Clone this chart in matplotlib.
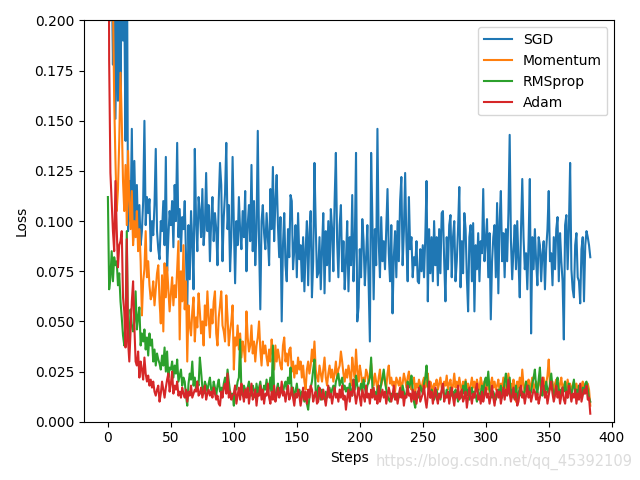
import numpy as np
import matplotlib
matplotlib.use("Agg")
import matplotlib.pyplot as plt

# Loss values in units of 0.001, one per step
sgd = [
350, 250, 300, 230, 178, 240, 151, 210, 160, 260,
161, 230, 190, 210, 140, 260, 95, 120, 100, 146,
90, 130, 100, 118, 92, 108, 88, 95, 110, 150,
98, 112, 104, 111, 85, 100, 93, 108, 136, 95,
86, 81, 100, 95, 110, 88, 132, 75, 92, 105,
98, 110, 87, 118, 100, 139, 92, 106, 85, 102,
96, 110, 82, 56, 98, 71, 105, 90, 66, 136,
100, 85, 112, 105, 92, 116, 88, 98, 124, 95,
108, 80, 100, 112, 90, 104, 96, 78, 110, 129,
118, 80, 102, 114, 139, 96, 108, 75, 92, 132,
98, 69, 100, 88, 112, 95, 86, 105, 92, 115,
75, 98, 108, 90, 128, 85, 110, 78, 96, 145,
90, 56, 100, 108, 94, 86, 104, 92, 78, 116,
96, 127, 90, 110, 123, 98, 82, 102, 50, 88,
104, 78, 70, 96, 82, 113, 110, 76, 86, 98,
72, 104, 81, 88, 70, 92, 65, 86, 100, 68,
94, 105, 62, 80, 129, 98, 72, 74, 92, 66,
86, 104, 64, 95, 78, 100, 70, 106, 96, 75,
110, 134, 90, 72, 98, 108, 75, 90, 66, 80,
100, 65, 92, 78, 113, 70, 88, 134, 50, 57,
86, 72, 101, 90, 68, 82, 98, 70, 40, 134,
100, 61, 96, 78, 146, 90, 72, 102, 80, 90,
76, 96, 116, 84, 70, 98, 54, 82, 95, 72,
100, 80, 110, 122, 78, 95, 124, 90, 70, 112,
86, 92, 72, 82, 78, 90, 70, 69, 86, 75,
88, 72, 92, 120, 60, 96, 74, 92, 70, 100,
78, 92, 68, 96, 74, 104, 105, 80, 60, 92,
76, 98, 103, 72, 92, 100, 70, 80, 96, 117,
67, 90, 74, 104, 96, 72, 55, 92, 98, 70,
99, 55, 88, 76, 94, 70, 90, 84, 116, 80,
90, 101, 72, 94, 51, 80, 92, 98, 72, 109,
64, 100, 115, 80, 94, 72, 96, 80, 104, 143,
90, 71, 86, 98, 76, 100, 80, 62, 96, 121,
92, 76, 84, 66, 90, 121, 44, 92, 76, 96,
80, 68, 92, 88, 70, 84, 90, 66, 86, 96,
115, 80, 84, 68, 92, 76, 96, 102, 70, 94,
80, 70, 41, 98, 103, 76, 96, 129, 76, 66,
62, 88, 94, 72, 70, 59, 86, 92, 60, 88,
95, 92, 88, 82,
]

momentum = [
230, 260, 200, 240, 210, 160, 130, 105, 116, 140,
174, 150, 120, 105, 128, 98, 135, 110, 96, 115,
88, 100, 92, 105, 85, 96, 80, 53, 70, 76,
95, 72, 80, 68, 61, 63, 70, 58, 66, 74,
78, 60, 49, 73, 45, 79, 62, 77, 66, 55,
64, 72, 58, 68, 62, 76, 90, 41, 75, 60,
88, 56, 70, 30, 58, 48, 43, 55, 62, 40,
52, 47, 64, 55, 44, 50, 38, 58, 48, 65,
52, 42, 56, 49, 60, 65, 44, 38, 52, 58,
65, 48, 45, 40, 63, 52, 38, 45, 50, 58,
26, 42, 38, 48, 36, 44, 32, 40, 36, 30,
55, 42, 35, 38, 48, 34, 40, 30, 38, 42,
50, 36, 28, 40, 34, 38, 32, 28, 36, 30,
41, 34, 26, 38, 30, 36, 32, 28, 26, 38,
42, 30, 34, 28, 36, 37, 25, 30, 22, 28,
24, 32, 26, 30, 22, 28, 20, 16, 26, 30,
24, 28, 36, 30, 40, 26, 22, 20, 28, 24,
20, 26, 32, 22, 18, 24, 28, 22, 26, 20,
24, 30, 22, 26, 28, 35, 30, 24, 20, 26,
22, 28, 24, 18, 32, 26, 22, 36, 25, 20,
28, 24, 18, 22, 20, 26, 24, 19, 23, 29,
22, 18, 24, 20, 16, 22, 26, 18, 21, 24,
20, 17, 24, 28, 19, 22, 18, 20, 15, 22,
20, 18, 22, 16, 19, 24, 21, 17, 22, 25,
18, 16, 20, 22, 15, 19, 17, 21, 18, 16,
20, 22, 17, 19, 24, 16, 20, 18, 14, 19,
18, 21, 16, 19, 22, 17, 15, 20, 18, 23,
16, 19, 21, 15, 18, 24, 17, 20, 16, 22,
18, 15, 20, 17, 21, 16, 19, 14, 18, 22,
17, 20, 15, 21, 18, 16, 22, 19, 15, 20,
18, 16, 21, 14, 19, 22, 17, 20, 16, 18,
21, 15, 19, 17, 22, 18, 16, 20, 24, 17,
19, 15, 21, 18, 10, 20, 17, 22, 16, 26,
18, 15, 20, 17, 21, 14, 19, 22, 16, 18,
20, 16, 19, 21, 15, 18, 22, 17, 19, 23,
31, 18, 16, 20, 14, 19, 21, 17, 15, 19,
22, 16, 18, 20, 15, 21, 17, 19, 14, 18,
20, 16, 19, 15, 18, 13, 17, 20, 15, 18,
17, 19, 16, 8,
]

rmsprop = [
112, 66, 72, 85, 70, 82, 78, 80, 68, 74,
60, 52, 43, 38, 50, 95, 42, 40, 56, 48,
45, 50, 65, 46, 52, 57, 38, 44, 40, 46,
36, 42, 33, 44, 38, 41, 30, 36, 28, 34,
31, 29, 26, 33, 28, 37, 25, 35, 22, 27,
26, 30, 22, 28, 24, 31, 20, 23, 26, 18,
22, 20, 13, 8, 19, 24, 21, 30, 18, 22,
16, 20, 18, 32, 25, 17, 14, 20, 18, 15,
19, 22, 16, 14, 20, 17, 13, 18, 21, 15,
17, 14, 19, 22, 18, 26, 20, 15, 12, 14,
8, 18, 16, 20, 22, 41, 15, 13, 18, 16,
14, 17, 20, 15, 13, 18, 16, 12, 19, 14,
17, 20, 15, 13, 18, 16, 21, 14, 17, 22,
15, 38, 14, 12, 16, 19, 13, 17, 15, 14,
18, 20, 16, 22, 19, 27, 14, 17, 12, 15,
19, 13, 16, 11, 15, 13, 10, 14, 9, 6,
12, 17, 20, 26, 31, 15, 12, 18, 14, 11,
16, 13, 11, 15, 12, 14, 17, 13, 16, 18,
15, 20, 22, 24, 18, 20, 22, 16, 18, 15,
17, 14, 19, 15, 13, 21, 16, 23, 18, 14,
16, 19, 15, 21, 17, 14, 18, 20, 22, 32,
17, 13, 15, 12, 16, 18, 14, 19, 22, 26,
20, 16, 13, 11, 10, 14, 12, 15, 13, 11,
14, 12, 16, 13, 18, 15, 12, 14, 20, 17,
19, 23, 16, 10, 7, 13, 15, 12, 18, 16,
14, 19, 22, 28, 18, 15, 12, 16, 14, 11,
13, 16, 12, 14, 11, 15, 18, 13, 12, 16,
14, 11, 17, 13, 15, 12, 16, 14, 10, 13,
15, 12, 18, 14, 20, 13, 16, 11, 14, 17,
12, 15, 13, 10, 16, 12, 14, 18, 13, 20,
22, 18, 25, 16, 14, 12, 15, 13, 11, 14,
16, 13, 18, 12, 15, 20, 24, 17, 14, 22,
13, 16, 12, 15, 18, 11, 14, 17, 13, 15,
12, 16, 20, 14, 18, 13, 15, 19, 22, 26,
17, 14, 21, 27, 16, 13, 18, 14, 20, 16,
14, 19, 24, 17, 13, 15, 18, 22, 14, 16,
13, 17, 15, 20, 14, 12, 19, 16, 13, 17,
21, 14, 16, 12, 18, 15, 13, 17, 14, 19,
20, 16, 12, 10,
]

adam = [
380, 180, 124, 110, 95, 85, 120, 96, 77, 88,
90, 95, 62, 55, 37, 91, 40, 30, 45, 60,
70, 48, 30, 28, 35, 22, 30, 26, 21, 32,
24, 20, 23, 18, 21, 17, 20, 15, 13, 16,
18, 10, 14, 20, 16, 12, 17, 21, 24, 15,
19, 25, 14, 18, 16, 20, 13, 15, 12, 17,
14, 12, 16, 10, 15, 13, 18, 12, 14, 16,
15, 20, 13, 14, 17, 12, 15, 18, 11, 14,
16, 13, 15, 12, 17, 14, 11, 13, 9, 8,
15, 12, 17, 19, 14, 24, 12, 15, 11, 13,
14, 18, 9, 13, 17, 11, 19, 14, 10, 16,
12, 17, 9, 14, 19, 11, 13, 16, 8, 14,
13, 18, 11, 16, 9, 14, 13, 19, 12, 9,
15, 11, 18, 10, 13, 17, 12, 14, 20, 13,
15, 10, 14, 18, 11, 13, 17, 12, 8, 14,
12, 16, 13, 8, 12, 17, 11, 15, 9, 16,
12, 18, 16, 10, 13, 15, 9, 10, 17, 13,
11, 16, 12, 8, 13, 18, 12, 14, 9, 13,
17, 12, 14, 10, 16, 12, 18, 11, 13, 6,
12, 16, 10, 15, 13, 21, 14, 9, 13, 17,
12, 8, 16, 13, 10, 18, 12, 14, 9, 16,
12, 17, 11, 13, 9, 18, 10, 13, 16, 12,
15, 9, 13, 17, 14, 10, 13, 18, 11, 14,
9, 13, 17, 12, 15, 8, 13, 12, 18, 13,
14, 10, 16, 11, 15, 9, 14, 17, 10, 12,
14, 18, 11, 7, 13, 20, 12, 15, 9, 13,
17, 12, 9, 14, 12, 16, 19, 10, 13, 12,
15, 9, 13, 17, 12, 8, 14, 12, 18, 11,
13, 16, 10, 12, 15, 7, 12, 17, 13, 9,
14, 12, 16, 19, 11, 13, 9, 15, 10, 13,
17, 12, 14, 9, 13, 18, 12, 8, 13, 16,
12, 15, 9, 13, 17, 11, 16, 13, 21, 14,
10, 13, 17, 11, 14, 8, 10, 15, 18, 12,
14, 9, 13, 18, 12, 15, 10, 13, 16, 15,
11, 14, 9, 12, 16, 22, 17, 12, 15, 9,
13, 17, 20, 14, 10, 13, 18, 12, 15, 9,
13, 17, 11, 9, 15, 12, 18, 14, 10, 14,
12, 16, 9, 14, 11, 19, 10, 13, 16, 14,
18, 11, 12, 4,
]

series = [("SGD", sgd), ("Momentum", momentum), ("RMSprop", rmsprop), ("Adam", adam)]

fig, ax = plt.subplots(figsize=(6.4, 4.8), dpi=100)
for name, vals in series:
    y = np.asarray(vals, dtype=float) / 1000.0
    ax.plot(np.arange(len(y)), y, label=name)

ax.set_ylim(0, 0.2)
ax.set_xlabel("Steps")
ax.set_ylabel("Loss")
ax.legend(loc="upper right")
fig.tight_layout()
fig.text(0.988, 0.038, "https://blog.csdn.net/qq_45392109", ha="right", va="center",
         fontsize=10.5, color="#dcdcdc")
fig.savefig("out.png", dpi=100)
